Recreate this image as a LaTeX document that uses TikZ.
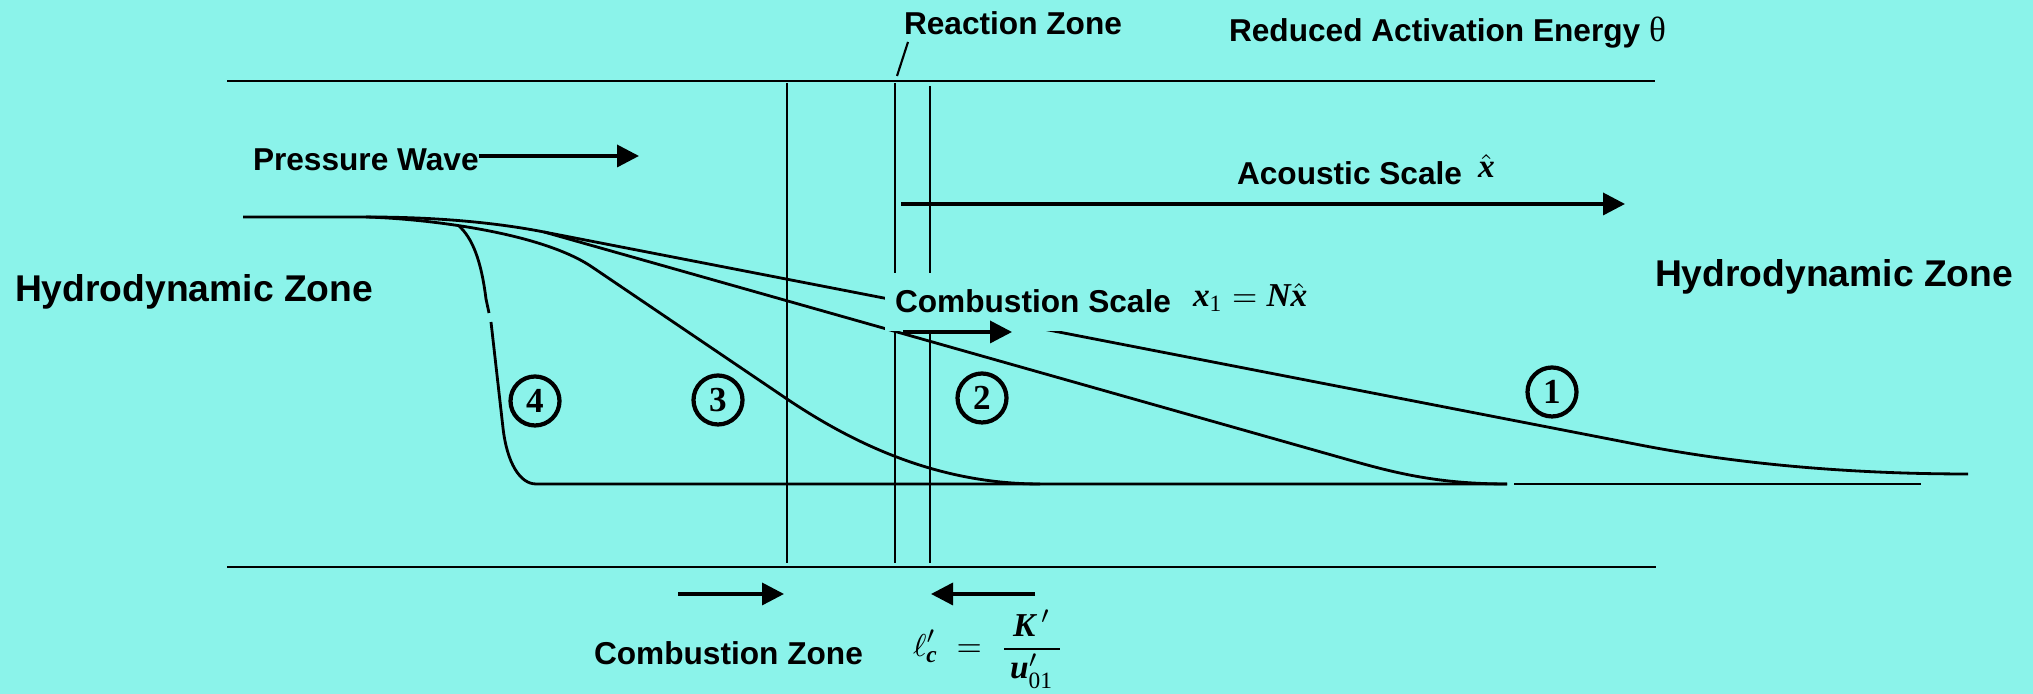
\documentclass[tikz,border=0pt]{standalone}
\usepackage{amsmath}
\usepackage{fontspec}
\setmainfont{Liberation Sans}
\newfontfamily\tms{Liberation Serif}
\usepackage{tikz}
\usetikzlibrary{arrows.meta}
\definecolor{bg}{RGB}{139,243,234}
\newcommand\fbi[1]{\text{\tms\bfseries\itshape #1}}
\newcommand\fup[1]{\text{\tms #1}}

\begin{document}
\begin{tikzpicture}[line width=0.8pt,
  lbl/.style={font=\fontsize{9}{11}\selectfont\bfseries, inner sep=0pt, outer sep=0pt, anchor=base west},
  big/.style={font=\fontsize{10.6}{13}\selectfont\bfseries, inner sep=0pt, outer sep=0pt, anchor=base west},
  fml/.style={font=\fontsize{9.5}{11.5}\selectfont, inner sep=0pt, outer sep=0pt, anchor=base west},
  num/.style={draw, circle, line width=1.2pt, minimum size=0.49cm, inner sep=0pt, font=\tms\fontsize{10}{12}\selectfont\bfseries},
  arr/.style={-{Triangle[length=0.22cm,width=0.22cm]}, line width=1pt},
  wall/.style={line width=0.7pt}]
\useasboundingbox (0,0) rectangle (20.33,6.94);
\fill[bg] (0,0) rectangle (20.33,6.94);

\draw (2.27,6.13) -- (16.55,6.13);
\draw (2.27,1.27) -- (16.56,1.27);
\draw[wall] (7.87,6.11) -- (7.87,1.31);
\draw[wall] (8.95,6.11) -- (8.95,1.31);
\draw[wall] (9.30,6.08) -- (9.30,1.31);

% profiles 1 to 4
\draw (2.43,4.77) -- (3.66,4.77) .. controls (4.2,4.77) and (4.84,4.737) .. (5.44,4.62) -- (16.40,2.49) .. controls (17.2,2.335) and (18.3,2.20) .. (19.68,2.20);
\draw (5.44,4.62) -- (13.35,2.38) .. controls (13.85,2.239) and (14.3,2.10) .. (15.07,2.10);
\draw (3.66,4.77) .. controls (4.3,4.75) and (5.42,4.61) .. (5.92,4.27) -- (7.84,2.97) .. controls (8.44,2.564) and (9.3,2.10) .. (10.4,2.10);
\draw (4.59,4.68) .. controls (4.72,4.56) and (4.81,4.35) .. (4.86,3.95) -- (4.89,3.81);
\draw (4.91,3.72) -- (5.03,2.66) .. controls (5.07,2.31) and (5.2,2.10) .. (5.36,2.10) -- (15.07,2.10);
\draw (15.14,2.10) -- (19.21,2.10);

\node[lbl, fill=bg, inner xsep=0.1cm, text height=0.40cm, text depth=0.18cm] (cs) at (8.85,3.81) {Combustion Scale};
\node[fml] (xone) at (11.93,3.87) {$\fbi{x}_{\fup{1}} = \fbi{N}\hat{\fbi{x}}$};
\coordinate (csfoot) at (9.03,3.62);
\coordinate (cstip) at (10.12,3.62);
\draw[arr] (csfoot) -- (cstip);

\node[lbl] (rz) at (9.04,6.59) {Reaction Zone};
\coordinate (rzfoot) at (8.97,6.18);
\draw[line width=0.6pt] ([shift={(0.04,-0.07)}]rz.base west) -- (rzfoot);
\node[lbl] (rae) at (12.29,6.52) {Reduced Activation Energy {\tms\mdseries\fontsize{10}{12}\selectfont θ}};

\node[lbl] (pw) at (2.53,5.23) {Pressure Wave};
\coordinate (pwtip) at (6.39,5.38);
\draw[arr] (pw.east |- pwtip) -- (pwtip);

\node[lbl] (as) at (12.37,5.09) {Acoustic Scale};
\node[fml] (ashat) at (14.78,5.16) {$\hat{\fbi{x}}$};
\coordinate (asfoot) at (9.01,4.90);
\coordinate (astip) at (16.25,4.90);
\draw[arr] (asfoot) -- (astip);

\node[big] (hzl) at (0.15,3.92) {Hydrodynamic Zone};
\node[big] (hzr) at (16.55,4.07) {Hydrodynamic Zone};

\node[num] (n4) at (5.35,2.93) {4};
\node[num] (n3) at (7.18,2.94) {3};
\node[num] (n2) at (9.82,2.96) {2};
\node[num] (n1) at (15.52,3.02) {1};

\coordinate (czfoot) at (6.78,1.00);
\coordinate (cztip) at (7.84,1.00);
\draw[arr] (czfoot) -- (cztip);
\coordinate (lcfoot) at (10.35,1.00);
\coordinate (lctip) at (9.31,1.00);
\draw[arr] (lcfoot) -- (lctip);
\node[lbl] (cz) at (5.94,0.29) {Combustion Zone};
\node[fml] (lc) at (9.13,0.37) {$\ell'_{\fbi{c}} \;=\; \dfrac{\;\fbi{K}\,'\;}{\fbi{u}'_{\fup{01}}}$};
\end{tikzpicture}
\end{document}
